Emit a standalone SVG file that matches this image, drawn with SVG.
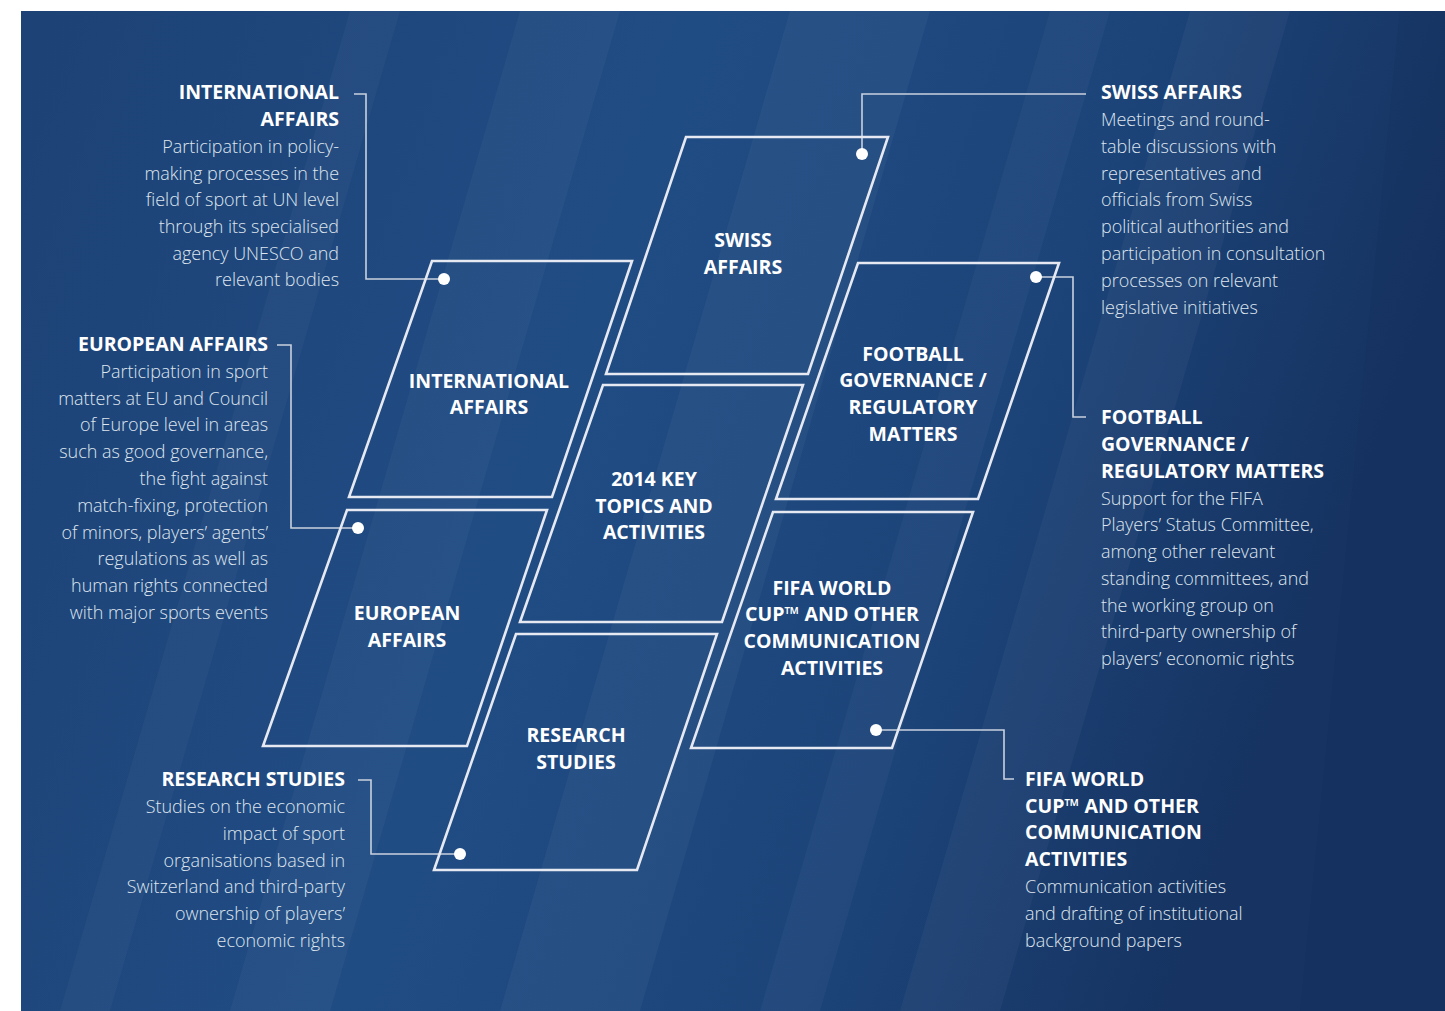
<svg xmlns="http://www.w3.org/2000/svg" width="1445" height="1011" viewBox="0 0 1445 1011">
<defs>
<linearGradient id="bg" x1="0" y1="0" x2="1" y2="0.25">
<stop offset="0" stop-color="#1d4275"/>
<stop offset="0.45" stop-color="#204c84"/>
<stop offset="0.75" stop-color="#1c4479"/>
<stop offset="1" stop-color="#163361"/>
</linearGradient>
<style>
.box{fill:none;stroke:#e6e9f1;stroke-width:2.6;stroke-linejoin:miter}
.con{fill:none;stroke:#c9d1de;stroke-width:1.6}
.dot{fill:#ffffff}
.lbl{font-family:"Open Sans","Noto Sans",sans-serif;font-weight:700;font-size:19.5px;fill:#ffffff;text-anchor:middle}
.hd{font-family:"Open Sans","Noto Sans",sans-serif;font-weight:700;font-size:19.5px;fill:#ffffff}
.bd{font-family:"Open Sans","Noto Sans",sans-serif;font-weight:300;font-size:19px;fill:#dfe5ee}
.end{text-anchor:end}
.streak{fill:#ffffff}
</style>
</defs>
<rect x="0" y="0" width="1445" height="1011" fill="#ffffff"/>
<rect x="21" y="11" width="1424" height="1000" fill="url(#bg)"/>
<g id="streaks">
<polygon class="streak" opacity="0.035" points="230,1011 330,1011 620,11 520,11"/>
<polygon class="streak" opacity="0.04" points="500,1011 640,1011 930,11 790,11"/>
<polygon class="streak" opacity="0.03" points="760,1011 820,1011 1110,11 1050,11"/>
<polygon class="streak" opacity="0.035" points="900,1011 1000,1011 1290,11 1190,11"/>
<polygon class="streak" opacity="0.03" points="60,1011 110,1011 400,11 350,11"/>
<polygon fill="#0f2a55" opacity="0.12" points="1300,1011 1445,1011 1445,11 1400,11"/>
</g>
<g id="connectors">
<path class="con" d="M354,94 H366 V279 H444"/>
<path class="con" d="M277,345 H291 V528 H358"/>
<path class="con" d="M358,780 H371 V854 H460"/>
<path class="con" d="M862,154 V94 H1086"/>
<path class="con" d="M1036,277 H1073 V417 H1086"/>
<path class="con" d="M876,730 H1004 V779 H1014"/>
<circle class="dot" cx="444" cy="279" r="6"/>
<circle class="dot" cx="358" cy="528" r="6"/>
<circle class="dot" cx="460" cy="854" r="6"/>
<circle class="dot" cx="862" cy="154" r="6"/>
<circle class="dot" cx="1036" cy="277" r="6"/>
<circle class="dot" cx="876" cy="730" r="6"/>
</g>
<g id="node-swiss">
<polygon class="box" points="686,137 888,137 808,374 606,374"/>
<text class="lbl"><tspan x="743" y="247">SWISS</tspan><tspan x="743" y="274">AFFAIRS</tspan></text>
</g>
<g id="node-international">
<polygon class="box" points="432,261 632,261 552,497 349,497"/>
<text class="lbl"><tspan x="489" y="388">INTERNATIONAL</tspan><tspan x="489" y="414">AFFAIRS</tspan></text>
</g>
<g id="node-football">
<polygon class="box" points="858,263 1059,263 978,499 776,499"/>
<text class="lbl"><tspan x="913" y="361">FOOTBALL</tspan><tspan x="913" y="387">GOVERNANCE /</tspan><tspan x="913" y="414">REGULATORY</tspan><tspan x="913" y="441">MATTERS</tspan></text>
</g>
<g id="node-2014">
<polygon class="box" points="603,385 803,385 722,622 520,622"/>
<text class="lbl"><tspan x="654" y="486">2014 KEY</tspan><tspan x="654" y="513">TOPICS AND</tspan><tspan x="654" y="539">ACTIVITIES</tspan></text>
</g>
<g id="node-european">
<polygon class="box" points="347,510 547,510 467,746 263,746"/>
<text class="lbl"><tspan x="407" y="620">EUROPEAN</tspan><tspan x="407" y="647">AFFAIRS</tspan></text>
</g>
<g id="node-fifa">
<polygon class="box" points="773,512 973,512 892,748 691,748"/>
<text class="lbl"><tspan x="832" y="595">FIFA WORLD</tspan><tspan x="832" y="621">CUP™ AND OTHER</tspan><tspan x="832" y="648">COMMUNICATION</tspan><tspan x="832" y="675">ACTIVITIES</tspan></text>
</g>
<g id="node-research">
<polygon class="box" points="516,634 717,634 637,870 434,870"/>
<text class="lbl"><tspan x="576" y="742">RESEARCH</tspan><tspan x="576" y="769">STUDIES</tspan></text>
</g>
<g id="desc-international">
<text class="hd end"><tspan x="339" y="99">INTERNATIONAL</tspan><tspan x="339" y="126">AFFAIRS</tspan></text>
<g transform="translate(339 0) scale(0.945 1)">
<text class="bd end"><tspan x="0" y="153">Participation in policy-</tspan><tspan x="0" y="180">making processes in the</tspan><tspan x="0" y="206">field of sport at UN level</tspan><tspan x="0" y="233">through its specialised</tspan><tspan x="0" y="260">agency UNESCO and</tspan><tspan x="0" y="286">relevant bodies</tspan></text>
</g>
</g>
<g id="desc-european">
<text class="hd end"><tspan x="268" y="351">EUROPEAN AFFAIRS</tspan></text>
<g transform="translate(268 0) scale(0.945 1)">
<text class="bd end"><tspan x="0" y="378">Participation in sport</tspan><tspan x="0" y="405">matters at EU and Council</tspan><tspan x="0" y="431">of Europe level in areas</tspan><tspan x="0" y="458">such as good governance,</tspan><tspan x="0" y="485">the fight against</tspan><tspan x="0" y="512">match-fixing, protection</tspan><tspan x="0" y="539">of minors, players’ agents’</tspan><tspan x="0" y="565">regulations as well as</tspan><tspan x="0" y="592">human rights connected</tspan><tspan x="0" y="619">with major sports events</tspan></text>
</g>
</g>
<g id="desc-research">
<text class="hd end"><tspan x="345" y="786">RESEARCH STUDIES</tspan></text>
<g transform="translate(345 0) scale(0.945 1)">
<text class="bd end"><tspan x="0" y="813">Studies on the economic</tspan><tspan x="0" y="840">impact of sport</tspan><tspan x="0" y="867">organisations based in</tspan><tspan x="0" y="893">Switzerland and third-party</tspan><tspan x="0" y="920">ownership of players’</tspan><tspan x="0" y="947">economic rights</tspan></text>
</g>
</g>
<g id="desc-swiss">
<text class="hd"><tspan x="1101" y="99">SWISS AFFAIRS</tspan></text>
<g transform="translate(1101 0) scale(0.945 1)">
<text class="bd"><tspan x="0" y="126">Meetings and round-</tspan><tspan x="0" y="153">table discussions with</tspan><tspan x="0" y="180">representatives and</tspan><tspan x="0" y="206">officials from Swiss</tspan><tspan x="0" y="233">political authorities and</tspan><tspan x="0" y="260">participation in consultation</tspan><tspan x="0" y="287">processes on relevant</tspan><tspan x="0" y="314">legislative initiatives</tspan></text>
</g>
</g>
<g id="desc-football">
<text class="hd"><tspan x="1101" y="424">FOOTBALL</tspan><tspan x="1101" y="451">GOVERNANCE /</tspan><tspan x="1101" y="478">REGULATORY MATTERS</tspan></text>
<g transform="translate(1101 0) scale(0.945 1)">
<text class="bd"><tspan x="0" y="505">Support for the FIFA</tspan><tspan x="0" y="531">Players’ Status Committee,</tspan><tspan x="0" y="558">among other relevant</tspan><tspan x="0" y="585">standing committees, and</tspan><tspan x="0" y="612">the working group on</tspan><tspan x="0" y="638">third-party ownership of</tspan><tspan x="0" y="665">players’ economic rights</tspan></text>
</g>
</g>
<g id="desc-fifa">
<text class="hd"><tspan x="1025" y="786">FIFA WORLD</tspan><tspan x="1025" y="813">CUP™ AND OTHER</tspan><tspan x="1025" y="839">COMMUNICATION</tspan><tspan x="1025" y="866">ACTIVITIES</tspan></text>
<g transform="translate(1025 0) scale(0.945 1)">
<text class="bd"><tspan x="0" y="893">Communication activities</tspan><tspan x="0" y="920">and drafting of institutional</tspan><tspan x="0" y="947">background papers</tspan></text>
</g>
</g>
</svg>
